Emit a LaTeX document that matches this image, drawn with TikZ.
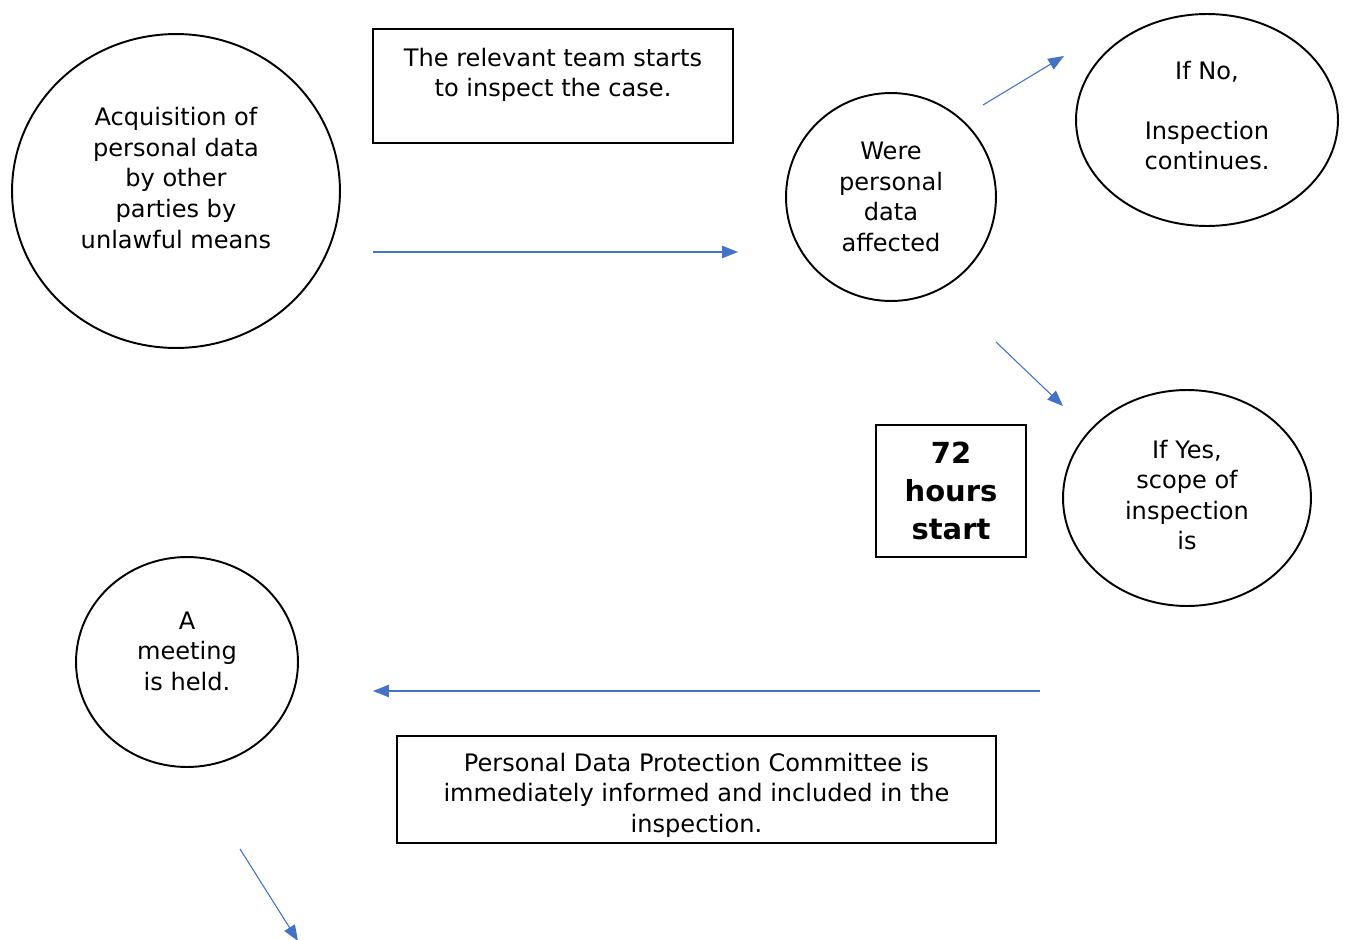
\documentclass[tikz,border=0pt]{standalone}
\usepackage{fontspec}
\setmainfont{DejaVu Sans}
\usetikzlibrary{arrows.meta,shapes.geometric}
\definecolor{flowblue}{HTML}{4472C4}

\begin{document}
\begin{tikzpicture}[
  x=0.02cm, y=-0.02cm,
  >={Triangle[length=9pt,width=7pt]},
  bubble/.style={ellipse, draw=black, line width=1.1pt, inner sep=0pt},
  box/.style={rectangle, draw=black, line width=1.1pt, inner sep=0pt},
  txt/.style={align=center, font=\fontsize{13.7}{17.4}\selectfont},
  bigtxt/.style={align=center, font=\bfseries\fontsize{16.5}{21.5}\selectfont},
  flow/.style={->, draw=flowblue, fill=flowblue, line width=0.6pt}
]
  \useasboundingbox (0,0) rectangle (1347,940);

  % shapes
  \node[bubble, minimum width=6.56cm, minimum height=6.28cm] (acq) at (176,191) {};
  \node[txt] (acqtext) at (176,178) {Acquisition of\\personal data\\by other\\parties by\\unlawful means};
  \node[box, minimum width=7.2cm, minimum height=2.28cm] (team) at (553,86) {};
  \node[txt] (teamtext) at (553,75) {The relevant team starts\\to inspect the case.};
  \node[bubble, txt, minimum width=4.2cm, minimum height=4.16cm] (affected) at (891,197) {Were\\personal\\data\\affected};
  \node[bubble, minimum width=5.24cm, minimum height=4.24cm] (no) at (1207,120) {};
  \node[txt] (notext) at (1207,116) {If No,\\[-1pt] \\Inspection\\continues.};
  \node[box, bigtxt, minimum width=3cm, minimum height=2.64cm] (hours) at (951,491) {72\\hours\\start};
  \node[bubble, minimum width=4.96cm, minimum height=4.32cm] (yes) at (1187,498) {};
  \node[txt] (yestext) at (1187,495) {If Yes,\\scope of\\inspection\\is};
  \node[bubble, minimum width=4.44cm, minimum height=4.2cm] (meeting) at (187,662) {};
  \node[txt] (meetingtext) at (187,651) {A\\meeting\\is held.};
  \node[box, minimum width=11.98cm, minimum height=2.14cm] (committee) at (696.5,789.5) {};
  \node[txt] (committeetext) at (696.5,795) {Personal Data Protection Committee is\\immediately informed and included in the\\inspection.};

  % connector ends
  \coordinate (a1) at (373,252);
  \coordinate (a2) at (738,252);
  \coordinate (b1) at (983,105);
  \coordinate (b2) at (1064,56);
  \coordinate (c1) at (996,342);
  \coordinate (c2) at (1063,406);
  \coordinate (d1) at (1040,691);
  \coordinate (d2) at (373,691);
  \coordinate (e1) at (240,849);
  \coordinate (e2) at (298,941);

  % connectors
  \draw[flow] (a1) -- (a2);
  \draw[flow] (b1) -- (b2);
  \draw[flow] (c1) -- (c2);
  \draw[flow] (d1) -- (d2);
  \draw[flow] (e1) -- (e2);
\end{tikzpicture}
\end{document}
